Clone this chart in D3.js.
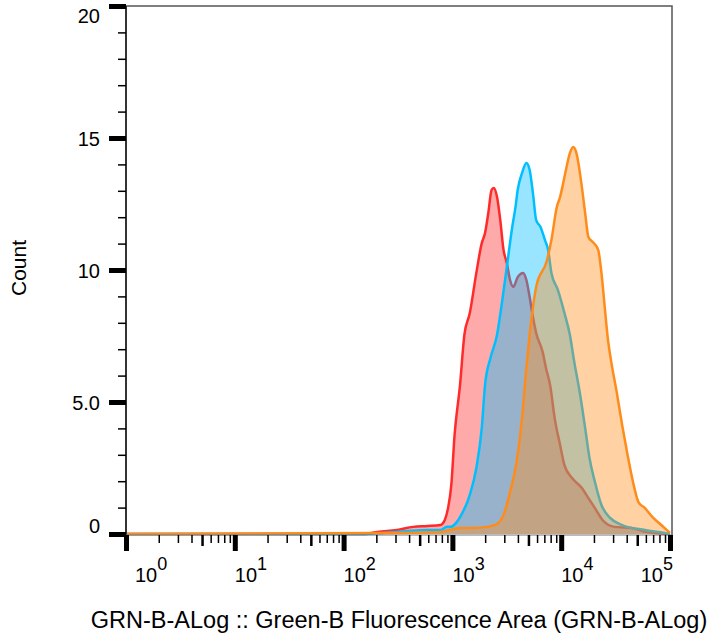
<!DOCTYPE html>
<html>
<head>
<meta charset="utf-8">
<script src="https://cdn.jsdelivr.net/npm/d3@7"></script>
<style>
  body { margin: 0; background: #fff; }
  text { font-family: "Liberation Sans", Arial, sans-serif; fill: #000; }
</style>
</head>
<body>
<div id="chart"></div>
<script>
// histogram points: [log10(GRN-B-A), count]
var redSeries = [[0,0],[2.2,0],[2.31,0.08],[2.49,0.15],[2.64,0.27],[2.77,0.3],[2.89,0.34],[2.93,0.53],[2.96,0.98],
  [2.99,1.86],[3.02,3.75],[3.07,5.64],[3.11,7.54],[3.16,8.37],[3.22,9.89],[3.27,11.02],[3.30,11.4],[3.33,12.16],
  [3.36,13.03],[3.38,13.11],[3.41,12.77],[3.44,11.89],[3.47,10.76],[3.50,10.27],[3.53,9.62],[3.56,9.36],[3.60,9.73],
  [3.65,9.89],[3.68,9.62],[3.71,8.98],[3.74,8.22],[3.77,7.61],[3.83,6.89],[3.86,6.29],[3.90,5.6],[3.94,4.39],
  [3.99,3.37],[4.03,2.61],[4.10,2.12],[4.19,1.74],[4.25,1.36],[4.31,0.98],[4.38,0.53],[4.49,0.27],[4.65,0.23],
  [4.77,0.08],[5.0,0]];
var blueSeries = [[0,0],[2.2,0],[2.36,0.04],[2.77,0.15],[2.89,0.15],[2.95,0.27],[2.98,0.27],[3.04,0.45],[3.07,0.64],
  [3.16,1.48],[3.22,2.5],[3.27,4.02],[3.30,5.64],[3.35,6.67],[3.41,7.54],[3.45,8.6],[3.50,10.11],[3.55,11.63],
  [3.58,12.39],[3.60,13.03],[3.64,13.67],[3.68,14.05],[3.71,13.79],[3.74,12.92],[3.77,11.89],[3.81,11.63],
  [3.85,11.14],[3.88,10.76],[3.91,9.89],[3.97,9.24],[4.03,8.37],[4.08,7.54],[4.12,6.52],[4.17,5.38],[4.22,4.02],
  [4.26,2.88],[4.31,1.97],[4.37,1.1],[4.45,0.61],[4.56,0.34],[4.77,0.15],[4.95,0.04],[5.0,0]];
var orangeSeries = [[0,0],[2.33,0.04],[2.89,0.08],[3.07,0.23],[3.19,0.23],[3.32,0.27],[3.41,0.38],[3.47,0.72],
  [3.53,1.59],[3.59,2.73],[3.64,4.39],[3.68,6.29],[3.71,7.54],[3.77,9.36],[3.87,10.38],[3.91,11.14],[3.96,12.39],
  [3.99,12.77],[4.03,13.52],[4.08,14.43],[4.11,14.66],[4.14,14.43],[4.19,13.14],[4.22,12.16],[4.25,11.25],
  [4.29,11.06],[4.34,10.76],[4.37,9.89],[4.40,8.6],[4.43,7.35],[4.46,6.52],[4.51,5.38],[4.56,4.13],[4.61,2.99],
  [4.66,1.97],[4.71,1.21],[4.77,0.98],[4.84,0.64],[4.92,0.34],[5.0,0.04]];

var yTicks = [0, 5, 10, 15, 20];
var yTickLabels = ["0", "5.0", "10", "15", "20"];
var xDecades = [0, 1, 2, 3, 4, 5];

var seriesList = [
  {data: redSeries, color: "#ff2a2a"},
  {data: blueSeries, color: "#00bfff"},
  {data: orangeSeries, color: "#ff8c1a"}
];

// set the dimensions and margins of the graph
var margin = {top: 6, right: 41, bottom: 110, left: 126},
    width = 713 - margin.left - margin.right,
    height = 644 - margin.top - margin.bottom;

var svg = d3.select("#chart")
  .append("svg")
    .attr("width", 713)
    .attr("height", 644)
  .append("g")
    .attr("transform", "translate(" + margin.left + "," + margin.top + ")");

var x = d3.scaleLog()
  .domain([1, 1e5])
  .range([0, width - 2]);

var y = d3.scaleLinear()
  .domain([0, 20])
  .range([height, 0]);

// histograms: fill + line, red first, orange on top
var area = d3.area()
  .x(function(d) { return x(Math.pow(10, d[0])); })
  .y0(y(0))
  .y1(function(d) { return y(d[1]); })
  .curve(d3.curveMonotoneX);
var line = d3.line()
  .x(function(d) { return x(Math.pow(10, d[0])); })
  .y(function(d) { return y(d[1]); })
  .curve(d3.curveMonotoneX);

seriesList.forEach(function(s) {
  svg.append("path")
    .datum(s.data)
    .attr("d", area)
    .attr("fill", s.color)
    .attr("fill-opacity", 0.4);
  svg.append("path")
    .datum(s.data)
    .attr("d", line)
    .attr("fill", "none")
    .attr("stroke", s.color)
    .attr("stroke-width", 2.5)
    .attr("stroke-linejoin", "round");
});

// frame
svg.append("path")
  .attr("d", "M0,0H" + width + "V" + (height + 1))
  .attr("fill", "none")
  .attr("stroke", "#555")
  .attr("stroke-width", 1.5);
svg.append("line")
  .attr("x1", 0).attr("x2", 0)
  .attr("y1", 0).attr("y2", height + 1)
  .attr("stroke", "#333")
  .attr("stroke-width", 2);
svg.append("line")
  .attr("x1", 0).attr("x2", width)
  .attr("y1", height + 1).attr("y2", height + 1)
  .attr("stroke", "#777")
  .attr("stroke-width", 1);

// Y axis ticks
var yMinor = d3.range(0, 20).filter(function(v) { return v % 5 !== 0; });
svg.append("g")
  .call(d3.axisLeft(y).tickValues(yMinor).tickSize(8).tickFormat(""))
  .call(function(g) { g.select(".domain").remove(); })
  .selectAll("line").attr("stroke", "#000").attr("stroke-width", 1.5);
svg.append("g")
  .call(d3.axisLeft(y).tickValues(yTicks).tickSize(17).tickFormat(""))
  .call(function(g) { g.select(".domain").remove(); })
  .selectAll("line").attr("stroke", "#000").attr("stroke-width", 5);

svg.selectAll(".ylab")
  .data(yTicks)
  .enter()
  .append("text")
    .attr("class", "ylab")
    .attr("x", -26)
    .attr("y", function(d) { return Math.min(Math.max(y(d) + 8, 17), height - 1); })
    .attr("text-anchor", "end")
    .style("font-size", "20px")
    .text(function(d, i) { return yTickLabels[i]; });

// X axis ticks (log decades)
var xMinor = [], xMid = [];
xDecades.slice(0, -1).forEach(function(k) {
  [2, 3, 4, 6, 7, 8, 9].forEach(function(m) { xMinor.push(m * Math.pow(10, k)); });
  xMid.push(5 * Math.pow(10, k));
});
var xAxisG = svg.append("g").attr("transform", "translate(0," + (height + 1) + ")");
[[xMinor, 8, 1.5], [xMid, 11, 2.5], [xDecades.map(function(k) { return Math.pow(10, k); }), 16, 5]]
  .forEach(function(t) {
    xAxisG.append("g")
      .call(d3.axisBottom(x).tickValues(t[0]).tickSize(t[1]).tickFormat(""))
      .call(function(g) { g.select(".domain").remove(); })
      .selectAll("line").attr("stroke", "#000").attr("stroke-width", t[2]);
  });

var xLab = svg.selectAll(".xlab")
  .data(xDecades)
  .enter()
  .append("text")
    .attr("class", "xlab")
    .attr("x", function(d, i) {
      if (i === 0) return x(1) + 9;
      if (i === xDecades.length - 1) return x(Math.pow(10, d)) + 3;
      return x(Math.pow(10, d));
    })
    .attr("y", height + 48)
    .attr("text-anchor", function(d, i) { return i === xDecades.length - 1 ? "end" : "start"; })
    .style("font-size", "20px");
xLab.append("tspan").text("10");
xLab.append("tspan")
  .attr("dy", -12)
  .style("font-size", "18px")
  .text(function(d) { return d; });

// axis titles
svg.append("text")
  .attr("text-anchor", "middle")
  .attr("x", width / 2)
  .attr("y", height + 94)
  .style("font-size", "23.5px")
  .text("GRN-B-ALog :: Green-B Fluorescence Area (GRN-B-ALog)");

svg.append("text")
  .attr("text-anchor", "middle")
  .attr("transform", "translate(" + (-100) + "," + 262 + ") rotate(-90)")
  .style("font-size", "21px")
  .text("Count");
</script>
</body>
</html>
